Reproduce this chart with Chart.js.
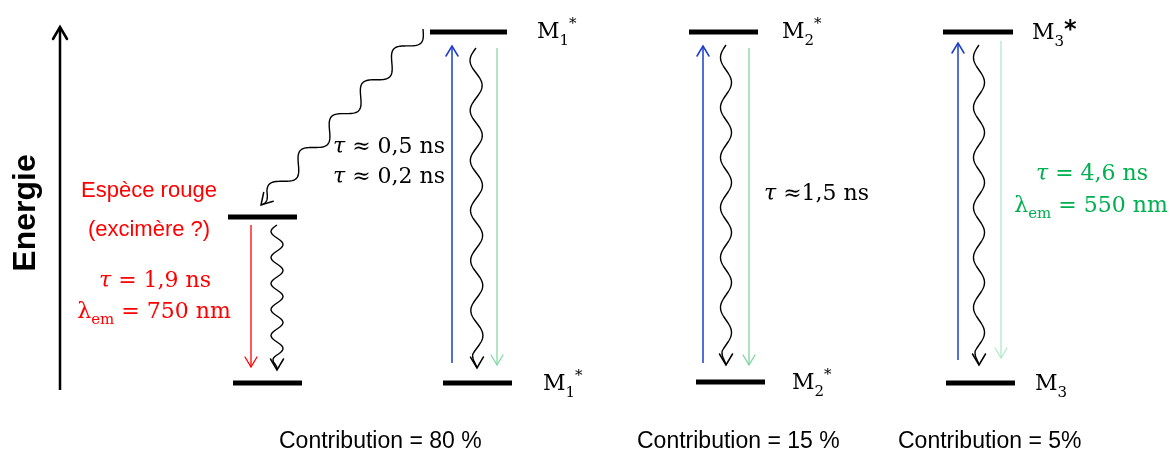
<!DOCTYPE html>
<html>
<head>
<meta charset="utf-8">
<script src="https://cdn.jsdelivr.net/npm/chart.js"></script>
<style>
  html, body { margin: 0; padding: 0; background: #fff; }
</style>
</head>
<body>
<canvas id="diagram" width="1172" height="450"></canvas>
<script>
// energy levels (x extent and energy, diagram units; 0 = bottom of the page)
const levelNames  = ["Espèce rouge*", "Espèce rouge", "M1* haut", "M1* bas", "M2* haut", "M2* bas", "M3*", "M3"];
const levelFrom   = [228, 233, 430, 443, 689, 696, 943, 946];
const levelTo     = [297, 302, 507, 512, 758, 765, 1013, 1015];
const levelEnergy = [233, 67, 418, 67, 418, 68, 418, 67];

// absorption (blue, up)
const absX    = [452, 703, 958];
const absFrom = [87, 87, 90];
const absTo   = [404, 404, 407];

// emission (red / green, down)
const emX    = [251, 497, 749, 1001];
const emFrom = [225, 402, 402, 409];
const emTo   = [83, 85, 85, 92];

// non radiative (wavy)
const nrFromX = [277, 476, 726, 979, 423];
const nrFromE = [225, 402, 405, 405, 421];
const nrToX   = [277, 477, 726, 979, 261];
const nrToE   = [80, 82, 85, 85, 245];

// energy axis
const axisX = 60;
const axisFrom = 60;
const axisTo = 423;

const contributions = ["Contribution = 80 %", "Contribution = 15 %", "Contribution = 5%"];

const emColors = ["#ff0000", "#86d9a6", "#80d4a0", "#b3e9cb"];
const waveStyle = [[26, 6], [50, 6], [50, 5.5], [50, 5.5], [46, -8]]; // wavelength, amplitude

const datasets = [];
levelNames.forEach((n, i) => {
  datasets.push({
    label: n,
    data: [{ x: levelFrom[i], y: levelEnergy[i] }, { x: levelTo[i], y: levelEnergy[i] }],
    borderColor: "#000", borderWidth: 5, borderCapStyle: "butt", kind: "level"
  });
});
absX.forEach((x, i) => {
  datasets.push({
    label: "abs" + i,
    data: [{ x: x, y: absFrom[i] }, { x: x, y: absTo[i] }],
    borderColor: "#1a3ccc", borderWidth: 1.5, kind: "arrow"
  });
});
emX.forEach((x, i) => {
  datasets.push({
    label: "em" + i,
    data: [{ x: x, y: emFrom[i] }, { x: x, y: emTo[i] }],
    borderColor: emColors[i], borderWidth: 1.3, kind: "arrow"
  });
});
nrFromX.forEach((x, i) => {
  datasets.push({
    label: "nr" + i,
    data: [{ x: x, y: nrFromE[i] }, { x: nrToX[i], y: nrToE[i] }],
    showLine: false, borderColor: "#000", kind: "wave", wave: waveStyle[i]
  });
});
datasets.push({
  label: "Energie",
  data: [{ x: axisX, y: axisFrom }, { x: axisX, y: axisTo }],
  borderColor: "#000", borderWidth: 2.5, kind: "arrow", head: [12, 7]
});

function arrowHead(ctx, tx, ty, dx, dy, len, half, color, lw) {
  const l = Math.hypot(dx, dy);
  const ux = dx / l, uy = dy / l;
  ctx.save();
  ctx.strokeStyle = color;
  ctx.lineWidth = lw;
  ctx.lineCap = "round";
  ctx.lineJoin = "miter";
  ctx.beginPath();
  ctx.moveTo(tx - ux * len - uy * half, ty - uy * len + ux * half);
  ctx.lineTo(tx, ty);
  ctx.lineTo(tx - ux * len + uy * half, ty - uy * len - ux * half);
  ctx.stroke();
  ctx.restore();
}

function drawRuns(ctx, x, y, runs, align, color) {
  ctx.save();
  ctx.fillStyle = color;
  ctx.textBaseline = "alphabetic";
  ctx.textAlign = "left";
  let w = 0;
  runs.forEach(r => { ctx.font = r[1]; w += ctx.measureText(r[0]).width; });
  let cx = align === "center" ? x - w / 2 : x;
  runs.forEach(r => {
    ctx.font = r[1];
    ctx.fillText(r[0], cx, y + (r[2] || 0));
    cx += ctx.measureText(r[0]).width;
  });
  ctx.restore();
}

const SERIF = "'DejaVu Serif', 'Liberation Serif', serif";
const F = "22px " + SERIF;
const FI = "italic 22px " + SERIF;
const FS = "15px " + SERIF;

const decor = {
  id: "decor",
  afterDatasetsDraw(chart) {
    const ctx = chart.ctx;
    chart.data.datasets.forEach((ds, i) => {
      const pts = chart.getDatasetMeta(i).data;
      const a = pts[0], b = pts[1];
      if (ds.kind === "arrow") {
        const h = ds.head || [10, 6];
        arrowHead(ctx, b.x, b.y, b.x - a.x, b.y - a.y, h[0], h[1], ds.borderColor, ds.borderWidth);
      } else if (ds.kind === "wave") {
        const lam = ds.wave[0], amp = ds.wave[1];
        const dx = b.x - a.x, dy = b.y - a.y;
        const L = Math.hypot(dx, dy);
        const ux = dx / L, uy = dy / L;
        const nx = -uy, ny = ux;
        ctx.save();
        ctx.strokeStyle = "#000";
        ctx.lineWidth = 1.4;
        ctx.beginPath();
        for (let s = 0; s <= L; s += 1) {
          let k = 1;
          if (L - s < 14) k = (L - s) / 14;
          const off = amp * Math.sin(2 * Math.PI * s / lam) * k;
          const px = a.x + ux * s + nx * off;
          const py = a.y + uy * s + ny * off;
          if (s === 0) ctx.moveTo(px, py); else ctx.lineTo(px, py);
        }
        ctx.stroke();
        ctx.restore();
        arrowHead(ctx, b.x, b.y, dx, dy, 11, 6.5, "#000", 1.5);
      }
    });

    // Energie
    ctx.save();
    ctx.translate(35, 213);
    ctx.rotate(-Math.PI / 2);
    ctx.font = "bold 32px 'Liberation Sans', Arial, sans-serif";
    ctx.fillStyle = "#000";
    ctx.textAlign = "center";
    ctx.fillText("Energie", 0, 0);
    ctx.restore();

    // level labels
    drawRuns(ctx, 537, 38, [["M", F], ["1", FS, 7], ["*", FS, -10]], "left", "#000");
    drawRuns(ctx, 543, 390, [["M", F], ["1", FS, 7], ["*", FS, -10]], "left", "#000");
    drawRuns(ctx, 782, 38, [["M", F], ["2", FS, 7], ["*", FS, -10]], "left", "#000");
    drawRuns(ctx, 792, 389, [["M", F], ["2", FS, 7], ["*", FS, -10]], "left", "#000");
    drawRuns(ctx, 1032, 39, [["M", F], ["3", FS, 7], ["*", "bold 24px 'DejaVu Sans', sans-serif", -2]], "left", "#000");
    drawRuns(ctx, 1035, 390, [["M", F], ["3", FS, 7]], "left", "#000");

    // lifetimes
    drawRuns(ctx, 389, 153, [["τ", FI], [" ≈ 0,5 ns", F]], "center", "#000");
    drawRuns(ctx, 389, 183, [["τ", FI], [" ≈ 0,2 ns", F]], "center", "#000");
    drawRuns(ctx, 764, 200, [["τ", FI], [" ≈1,5 ns", F]], "left", "#000");

    const red = "#ff0000", green = "#00b050";
    ctx.save();
    ctx.font = "22px 'Liberation Sans', Arial, sans-serif";
    ctx.fillStyle = red;
    ctx.textAlign = "center";
    ctx.fillText("Espèce rouge", 149, 197);
    ctx.fillText("(excimère ?)", 149, 236);
    ctx.restore();
    drawRuns(ctx, 155, 287, [["τ", FI], [" = 1,9 ns", F]], "center", red);
    drawRuns(ctx, 154, 318, [["λ", F], ["em", FS, 6], [" = 750 nm", F]], "center", red);
    drawRuns(ctx, 1092, 180, [["τ", FI], [" = 4,6 ns", F]], "center", green);
    drawRuns(ctx, 1091, 212, [["λ", F], ["em", FS, 6], [" = 550 nm", F]], "center", green);

    // contributions
    ctx.save();
    ctx.font = "23px 'Liberation Sans', Arial, sans-serif";
    ctx.fillStyle = "#000";
    ctx.textAlign = "left";
    ctx.fillText(contributions[0], 279, 448);
    ctx.fillText(contributions[1], 637, 448);
    ctx.fillText(contributions[2], 898, 448);
    ctx.restore();
  }
};

new Chart(document.getElementById("diagram").getContext("2d"), {
  type: "scatter",
  data: { datasets: datasets },
  options: {
    responsive: false,
    animation: false,
    showLine: true,
    elements: { point: { radius: 0, hoverRadius: 0 }, line: { tension: 0 } },
    layout: { padding: 0 },
    plugins: { legend: { display: false }, tooltip: { enabled: false } },
    events: [],
    scales: {
      x: { type: "linear", min: 0, max: 1172, display: false },
      y: { type: "linear", min: 0, max: 450, display: false }
    }
  },
  plugins: [decor]
});
</script>
</body>
</html>
